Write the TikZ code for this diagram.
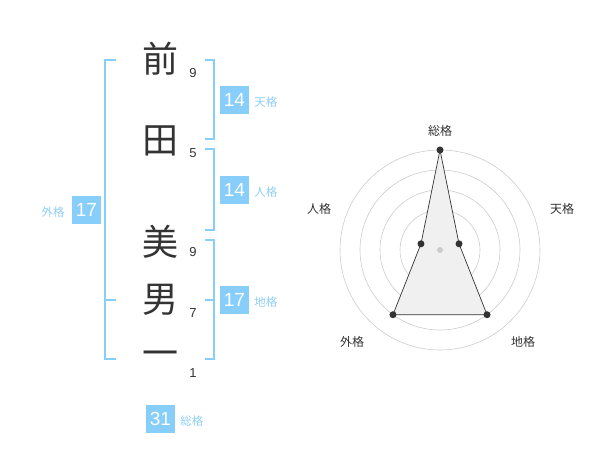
\documentclass[tikz,border=0pt]{standalone}
\usepackage{fontspec}
\usetikzlibrary{positioning}
\setmainfont{Liberation Sans}
\newfontfamily\jp{Noto Sans CJK JP}
\definecolor{kakublue}{HTML}{87CEFA}
\definecolor{kakutext}{HTML}{8FCFF5}
\definecolor{ink}{HTML}{333333}
\definecolor{ring}{HTML}{CCCCCC}

\begin{document}
\begin{tikzpicture}[x=1pt, y=-1pt,
  moji/.style={font=\jp\fontsize{36}{36}\selectfont, text=ink, inner sep=0pt},
  kakusu/.style={font=\fontsize{13}{13}\selectfont, text=ink, inner sep=0pt},
  numbox/.style={fill=kakublue, text=white, font=\fontsize{19}{19}\selectfont,
    minimum width=29pt, minimum height=28pt, inner sep=0pt},
  kakuname/.style={font=\jp\fontsize{11.5}{11.5}\selectfont, text=kakutext, inner sep=0pt},
  bracket/.style={draw=kakublue, line width=1.6pt},
  axis/.style={font=\jp\fontsize{12}{12}\selectfont, text=ink, inner sep=0pt},
  dot/.style={circle, fill=ink, inner sep=0pt, minimum size=7pt}]
\useasboundingbox (0,0) rectangle (600,470);

\node[moji] (mae) at (160,59) {前};
\node[moji] (ta) at (160,141) {田};
\node[moji] (bi) at (160,242) {美};
\node[moji] (otoko) at (160,300) {男};
\node[moji] (ichi) at (160,359) {一};

\node[kakusu] (s1) at (193,73) {9};
\node[kakusu] (s2) at (193,153) {5};
\node[kakusu] (s3) at (193,252) {9};
\node[kakusu] (s4) at (193,313) {7};
\node[kakusu] (s5) at (193,373) {1};

\draw[bracket] (116,60) -| (105,359) -- (116,359);
\draw[bracket] (105,300) -- (116,300);
\draw[bracket] (205,60) -| (214,139) -- (205,139);
\draw[bracket] (205,149) -| (214,230) -- (205,230);
\draw[bracket] (205,240) -| (214,359) -- (205,359);
\draw[bracket] (205,300) -- (214,300);

\node[numbox] (ten) at (234.5,100) {14};
\node[kakuname, right=5pt of ten, yshift=-2pt] (tenl) {天格};
\node[numbox] (jin) at (234.5,190) {14};
\node[kakuname, right=5pt of jin, yshift=-2pt] (jinl) {人格};
\node[numbox] (chi) at (234.5,300) {17};
\node[kakuname, right=5pt of chi, yshift=-2pt] (chil) {地格};
\node[numbox] (gai) at (86.5,210) {17};
\node[kakuname, left=7pt of gai, yshift=-2pt] (gail) {外格};
\node[numbox] (so) at (160.5,419) {31};
\node[kakuname, right=5pt of so, yshift=-2pt] (sol) {総格};

\begin{scope}[shift={(440,250)}, y=1pt]
\foreach \r in {20,40,60,80,100}
  \draw[ring, line width=0.6pt] (0,0) circle (\r);
\coordinate (p1) at (90:100);
\coordinate (p2) at (18:20);
\coordinate (p3) at (-54:80);
\coordinate (p4) at (-126:80);
\coordinate (p5) at (162:20);
\draw[ink, fill=black!6, line width=0.7pt] (p1) -- (p2) -- (p3) -- (p4) -- (p5) -- cycle;
\node[circle, fill=ring, inner sep=0pt, minimum size=6pt] (o) at (0,0) {};
\foreach \p in {p1,p2,p3,p4,p5}
  \node[dot] at (\p) {};
\node[axis] (a1) at (0,119) {総格};
\node[axis] (a2) at (122,41) {天格};
\node[axis] (a3) at (83,-92) {地格};
\node[axis] (a4) at (-88,-92) {外格};
\node[axis] (a5) at (-121,41) {人格};
\end{scope}
\end{tikzpicture}
\end{document}
